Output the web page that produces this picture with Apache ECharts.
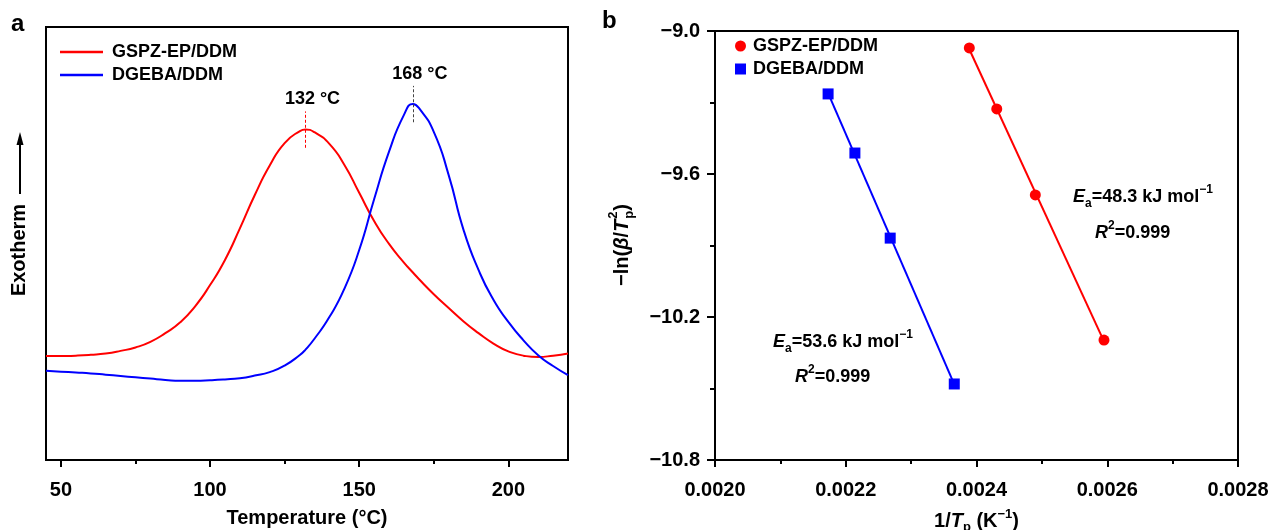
<!DOCTYPE html>
<html><head><meta charset="utf-8">
<script src="https://cdn.jsdelivr.net/npm/echarts@6/dist/echarts.min.js"></script>
<style>html,body{margin:0;padding:0;background:#fff}#c{width:1271px;height:530px}</style>
</head><body><div id="c"></div>
<script>
// ---- Panel a: DSC curves ----
const temps      = [45,50,55,60,65,70,75,80,85,90,95,100,105,110,115,120,125,130,132,135,140,145,150,155,160,165,168,170,175,180,185,190,195,200,205,210,215,220];
const gspzHeat   = [2.40,2.40,2.41,2.43,2.46,2.52,2.60,2.73,2.93,3.18,3.55,4.04,4.62,5.35,6.12,6.80,7.32,7.59,7.63,7.57,7.30,6.82,6.17,5.52,4.99,4.56,4.33,4.18,3.83,3.51,3.20,2.93,2.69,2.51,2.41,2.38,2.41,2.46];
const dgebaHeat  = [2.06,2.04,2.02,2.00,1.97,1.94,1.91,1.88,1.85,1.83,1.83,1.84,1.86,1.89,1.95,2.03,2.18,2.42,2.55,2.80,3.30,3.95,4.85,6.02,7.12,7.97,8.22,8.13,7.58,6.58,5.31,4.39,3.70,3.19,2.77,2.42,2.17,1.96];
const peakTemps  = [132, 168];
const peakLabels = ['132 °C', '168 °C'];
const tempTicks      = [50, 100, 150, 200];
const tempMinorTicks = [75, 125, 175];

// ---- Panel b: Kissinger plot ----
const gspzInvT  = [0.002389, 0.002431, 0.002490, 0.002595];
const gspzLnY   = [-9.071, -9.327, -9.688, -10.297];
const dgebaInvT = [0.002173, 0.002214, 0.002268, 0.002366];
const dgebaLnY  = [-9.264, -9.512, -9.869, -10.481];
const invTTicks      = [0.0020, 0.0022, 0.0024, 0.0026, 0.0028];
const invTMinorTicks = [0.0021, 0.0023, 0.0025, 0.0027];
const lnYTicks       = [-10.8, -10.2, -9.6, -9.0];
const lnYMinorTicks  = [-10.5, -9.9, -9.3];
const seriesNames = ['GSPZ-EP/DDM', 'DGEBA/DDM'];

const FONT = '"Liberation Sans", Arial, Helvetica, sans-serif';
const RED = '#ff0000', BLUE = '#0000ff';

function zip(a, b) { return a.map((v, i) => [v, b[i]]); }
function fitLine(xs, ys) {
  const n = xs.length;
  const mx = xs.reduce((s, v) => s + v, 0) / n, my = ys.reduce((s, v) => s + v, 0) / n;
  let sxy = 0, sxx = 0;
  for (let i = 0; i < n; i++) { sxy += (xs[i] - mx) * (ys[i] - my); sxx += (xs[i] - mx) ** 2; }
  const b = sxy / sxx, a = my - b * mx;
  const x0 = Math.min(...xs), x1 = Math.max(...xs);
  return [[x0, a + b * x0], [x1, a + b * x1]];
}

const rich = {
  n:   {fontFamily: FONT, fontWeight: 'bold', fontSize: 20, color: '#000', lineHeight: 26, verticalAlign: 'middle'},
  i:   {fontFamily: FONT, fontWeight: 'bold', fontStyle: 'italic', fontSize: 20, color: '#000', lineHeight: 26, verticalAlign: 'middle'},
  sub: {fontFamily: FONT, fontWeight: 'bold', fontSize: 13, color: '#000', lineHeight: 12, verticalAlign: 'bottom'},
  sup: {fontFamily: FONT, fontWeight: 'bold', fontSize: 13, color: '#000', lineHeight: 16, verticalAlign: 'top'}
};
const rich18 = {
  n:   Object.assign({}, rich.n, {fontSize: 18}),
  i:   Object.assign({}, rich.i, {fontSize: 18}),
  sub: Object.assign({}, rich.sub, {fontSize: 12}),
  sup: Object.assign({}, rich.sup, {fontSize: 12})
};

const tickLabel = {fontFamily: FONT, fontWeight: 'bold', fontSize: 20, color: '#000'};

// y-axis title of panel b with stacked sub/superscript, built as a rotated group
function yTitleGroup(cx, cy) {
  const ctx = document.createElement('canvas').getContext('2d');
  const fN = 'bold 20px ' + FONT, fI = 'italic bold 20px ' + FONT, fS = 'bold 13px ' + FONT;
  const parts = [['−ln(', fN], ['β', fI], ['/', fN], ['T', fI], ['STACK'], [')', fN]];
  const w = p => { ctx.font = p[1]; return ctx.measureText(p[0]).width; };
  ctx.font = fS;
  const stackW = Math.max(ctx.measureText('p').width, ctx.measureText('2').width) + 1;
  let total = 0;
  parts.forEach(p => { total += p[0] === 'STACK' ? stackW : w(p); });
  let x = -total / 2;
  const children = [];
  parts.forEach(p => {
    if (p[0] === 'STACK') {
      children.push({type: 'text', x: x + 1, y: 7, style: {text: 'p', font: fS, fill: '#000', verticalAlign: 'middle'}});
      children.push({type: 'text', x: x + 1, y: -9, style: {text: '2', font: fS, fill: '#000', verticalAlign: 'middle'}});
      x += stackW;
    } else {
      children.push({type: 'text', x: x, y: 0, style: {text: p[0], font: p[1], fill: '#000', verticalAlign: 'middle'}});
      x += w(p);
    }
  });
  return {type: 'group', x: cx, y: cy, rotation: Math.PI / 2, children: children};
}

function peakMark(idx, heat, color) {
  const t = peakTemps[idx];
  const pv = heat[temps.indexOf(t)];
  return {
    markLine: {
      silent: true, symbol: 'none', animation: false,
      lineStyle: {color: color, type: [3, 2], width: 1},
      label: {show: false},
      data: [[{coord: [t, pv - 0.42]}, {coord: [t, pv + 0.42]}]]
    },
    markPoint: {
      silent: true, symbol: 'circle', symbolSize: 0, animation: false,
      data: [{coord: [t, pv + 0.42]}],
      label: {show: true, position: 'top', distance: 3, offset: [7, 0],
              formatter: peakLabels[idx],
              fontFamily: FONT, fontWeight: 'bold', fontSize: 18, color: '#000'}
    }
  };
}

const chart = echarts.init(document.getElementById('c'));
const option = {
  animation: false,
  backgroundColor: '#fff',
  grid: [
    {left: 46, top: 27, width: 522, height: 433, outerBoundsMode: 'none', containLabel: false,
     show: true, borderColor: '#000', borderWidth: 2, backgroundColor: 'transparent'},
    {left: 715, top: 31, width: 523, height: 429, outerBoundsMode: 'none', containLabel: false,
     show: true, borderColor: '#000', borderWidth: 2, backgroundColor: 'transparent'}
  ],
  xAxis: [
    {gridIndex: 0, type: 'value', position: 'bottom', min: 45, max: 220,
     axisLine: {show: false}, splitLine: {show: false},
     axisTick: {show: true, length: 7, lineStyle: {color: '#000', width: 2}, customValues: tempTicks},
     axisLabel: {show: true, margin: 20, customValues: tempTicks, ...tickLabel},
     name: 'Temperature (°C)', nameLocation: 'middle', nameGap: 48,
     nameTextStyle: {fontFamily: FONT, fontWeight: 'bold', fontSize: 20, color: '#000'}},
    {gridIndex: 0, type: 'value', position: 'bottom', min: 45, max: 220,
     axisLine: {show: false}, splitLine: {show: false}, axisLabel: {show: false},
     axisTick: {show: true, length: 4, lineStyle: {color: '#000', width: 2}, customValues: tempMinorTicks}},
    {gridIndex: 1, type: 'value', position: 'bottom', min: 0.0020, max: 0.0028,
     axisLine: {show: false}, splitLine: {show: false},
     axisTick: {show: true, length: 7, lineStyle: {color: '#000', width: 2}, customValues: invTTicks},
     axisLabel: {show: true, margin: 20, customValues: invTTicks, formatter: v => v.toFixed(4), ...tickLabel},
     name: '{n|1/}{i|T}{sub|p}{n| (K}{sup|−1}{n|)}', nameLocation: 'middle', nameGap: 48,
     nameTextStyle: {rich: rich}},
    {gridIndex: 1, type: 'value', position: 'bottom', min: 0.0020, max: 0.0028,
     axisLine: {show: false}, splitLine: {show: false}, axisLabel: {show: false},
     axisTick: {show: true, length: 4, lineStyle: {color: '#000', width: 2}, customValues: invTMinorTicks}}
  ],
  yAxis: [
    {gridIndex: 0, type: 'value', min: 0, max: 10, show: true,
     axisLine: {show: false}, axisTick: {show: false}, axisLabel: {show: false}, splitLine: {show: false}},
    {gridIndex: 1, type: 'value', position: 'left', min: -10.8, max: -9.0,
     axisLine: {show: false, onZero: false}, splitLine: {show: false},
     axisTick: {show: true, length: 8, lineStyle: {color: '#000', width: 2}, customValues: lnYTicks},
     axisLabel: {show: true, margin: 15, customValues: lnYTicks,
                 formatter: v => (v < 0 ? '−' : '') + Math.abs(v).toFixed(1), ...tickLabel}},
    {gridIndex: 1, type: 'value', position: 'left', min: -10.8, max: -9.0,
     axisLine: {show: false, onZero: false}, splitLine: {show: false}, axisLabel: {show: false},
     axisTick: {show: true, length: 5, lineStyle: {color: '#000', width: 2}, customValues: lnYMinorTicks}}
  ],
  legend: [
    {data: seriesNames.map(n => ({name: n, icon: 'rect'})), left: 60, top: 42, padding: 0,
     orient: 'vertical', itemWidth: 43, itemHeight: 2.5, itemGap: 3,
     selectedMode: false,
     textStyle: {fontFamily: FONT, fontWeight: 'bold', fontSize: 18, color: '#000', lineHeight: 20, padding: [0, 0, 0, 4]}},
    {data: [{name: 'b:' + seriesNames[0], icon: 'circle'}, {name: 'b:' + seriesNames[1], icon: 'rect'}],
     left: 735, top: 36, padding: 0, orient: 'vertical', itemWidth: 11, itemHeight: 11, itemGap: 3,
     selectedMode: false, formatter: n => n.slice(2),
     textStyle: {fontFamily: FONT, fontWeight: 'bold', fontSize: 18, color: '#000', lineHeight: 20, padding: [0, 0, 0, 2]}}
  ],
  series: [
    Object.assign({name: seriesNames[0], type: 'line', xAxisIndex: 0, yAxisIndex: 0,
      data: zip(temps, gspzHeat), smooth: 0.55, symbol: 'none', lineStyle: {color: RED, width: 2}, itemStyle: {color: RED}},
      peakMark(0, gspzHeat, RED)),
    Object.assign({name: seriesNames[1], type: 'line', xAxisIndex: 0, yAxisIndex: 0,
      data: zip(temps, dgebaHeat), smooth: 0.55, symbol: 'none', lineStyle: {color: BLUE, width: 2}, itemStyle: {color: BLUE}},
      peakMark(1, dgebaHeat, '#444')),
    {type: 'line', xAxisIndex: 2, yAxisIndex: 1, data: fitLine(gspzInvT, gspzLnY), symbol: 'none',
     lineStyle: {color: RED, width: 2}, silent: true},
    {type: 'line', xAxisIndex: 2, yAxisIndex: 1, data: fitLine(dgebaInvT, dgebaLnY), symbol: 'none',
     lineStyle: {color: BLUE, width: 2}, silent: true},
    {name: 'b:' + seriesNames[0], type: 'scatter', xAxisIndex: 2, yAxisIndex: 1,
     data: zip(gspzInvT, gspzLnY), symbol: 'circle', symbolSize: 11, itemStyle: {color: RED, opacity: 1}, z: 5},
    {name: 'b:' + seriesNames[1], type: 'scatter', xAxisIndex: 2, yAxisIndex: 1,
     data: zip(dgebaInvT, dgebaLnY), symbol: 'rect', symbolSize: 11, itemStyle: {color: BLUE, opacity: 1}, z: 5}
  ],
  graphic: [
    {type: 'text', left: 11, top: 12, style: {text: 'a', font: 'bold 24px ' + FONT, fill: '#000'}},
    {type: 'text', left: 602, top: 9, style: {text: 'b', font: 'bold 24px ' + FONT, fill: '#000'}},
    {type: 'text', x: 19, y: 250, rotation: Math.PI / 2,
     style: {text: 'Exotherm', font: 'bold 20px ' + FONT, fill: '#000', align: 'center', verticalAlign: 'middle'}},
    {type: 'line', shape: {x1: 20, y1: 194, x2: 20, y2: 140}, style: {stroke: '#000', lineWidth: 2}},
    {type: 'polygon', shape: {points: [[20, 132], [16.5, 145], [23.5, 145]]}, style: {fill: '#000'}},
    yTitleGroup(622, 245),
    {type: 'text', x: 1073, y: 197,
     style: {text: '{i|E}{sub|a}{n|=48.3 kJ mol}{sup|−1}', rich: rich18, align: 'left', verticalAlign: 'middle'}},
    {type: 'text', x: 1095, y: 233,
     style: {text: '{i|R}{sup|2}{n|=0.999}', rich: rich18, align: 'left', verticalAlign: 'middle'}},
    {type: 'text', x: 773, y: 342,
     style: {text: '{i|E}{sub|a}{n|=53.6 kJ mol}{sup|−1}', rich: rich18, align: 'left', verticalAlign: 'middle'}},
    {type: 'text', x: 795, y: 377,
     style: {text: '{i|R}{sup|2}{n|=0.999}', rich: rich18, align: 'left', verticalAlign: 'middle'}}
  ]
};
chart.setOption(option);
</script>
</body></html>
